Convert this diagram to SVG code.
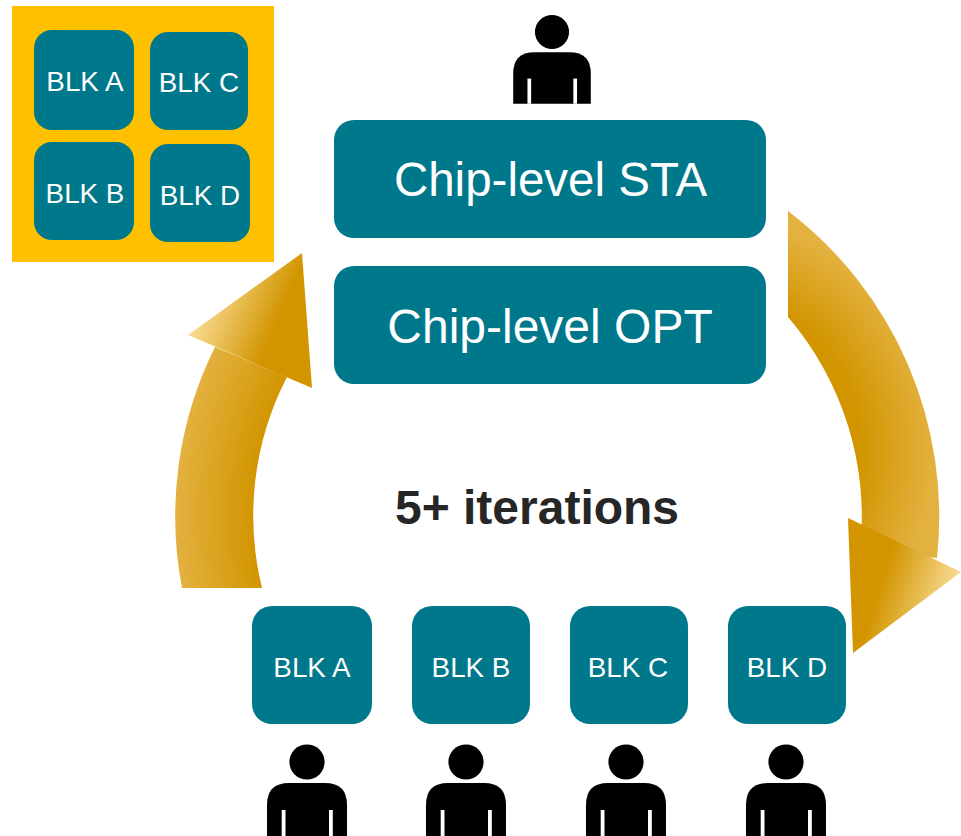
<svg xmlns="http://www.w3.org/2000/svg" xmlns:xlink="http://www.w3.org/1999/xlink" width="961" height="836" viewBox="0 0 961 836">
<style>
.blk{fill:#00788C}
.t{font-family:"Liberation Sans",Arial,sans-serif;fill:#fff;text-anchor:middle}
.s{font-size:27.8px}
.l{font-size:48px}
.i{font-family:"Liberation Sans",Arial,sans-serif;font-size:48px;font-weight:bold;fill:#262626;text-anchor:middle}
.slit{fill:#fff}
</style>
<defs>
<radialGradient id="gl" gradientUnits="userSpaceOnUse" cx="555" cy="516" r="380"><stop offset="0.79" stop-color="#D29500"/><stop offset="1" stop-color="#E3B13F"/></radialGradient>
<linearGradient id="hl" gradientUnits="userSpaceOnUse" x1="188" y1="335" x2="259" y2="365"><stop offset="0" stop-color="#F9DC96"/><stop offset="1" stop-color="#D29500"/></linearGradient>
<radialGradient id="gr" gradientUnits="userSpaceOnUse" cx="700" cy="450" r="235"><stop offset="0.68" stop-color="#D29500"/><stop offset="1" stop-color="#E3B13F"/></radialGradient>
<linearGradient id="hr" gradientUnits="userSpaceOnUse" x1="961" y1="572" x2="892" y2="550"><stop offset="0" stop-color="#F9DC96"/><stop offset="1" stop-color="#D29500"/></linearGradient>
<g id="person">
<circle cx="0" cy="0" r="17.6" fill="#000"/>
<path d="M-40 74V43Q-40 21-18 21H18Q40 21 40 43V74Z" fill="#000"/>
<rect class="slit" x="-25.3" y="48" width="3.8" height="26"/>
<rect class="slit" x="22" y="48" width="3.8" height="26"/>
</g>
</defs>
<g id="connectors">
<g id="arrow-left">
<path d="M182 588A380 380 0 0 1 215 347L287 377A302 302 0 0 0 262 588Z" fill="url(#gl)"/>
<path d="M302 253L188 335L312 388Z" fill="url(#hl)"/>
</g>
<g id="arrow-right">
<path d="M788 211A384 384 0 0 1 937 558L860 550A307 307 0 0 0 788 317Z" fill="url(#gr)"/>
<path d="M848 518L961 572L853 653Z" fill="url(#hr)"/>
</g>
</g>
<g id="chip">
<rect x="12" y="6" width="262" height="256" fill="#FFC000"/>
<g id="chip-a"><rect class="blk" x="34" y="30" width="100" height="100" rx="18"/><text class="t s" x="85" y="91">BLK A</text></g>
<g id="chip-c"><rect class="blk" x="150" y="32" width="98" height="98" rx="18"/><text class="t s" x="199" y="92">BLK C</text></g>
<g id="chip-b"><rect class="blk" x="34" y="142" width="100" height="98" rx="18"/><text class="t s" x="85" y="203">BLK B</text></g>
<g id="chip-d"><rect class="blk" x="150" y="144" width="100" height="98" rx="18"/><text class="t s" x="200" y="205">BLK D</text></g>
</g>
<g id="top-person"><use xlink:href="#person" href="#person" transform="translate(552 32) scale(.97)"/></g>
<g id="sta"><rect class="blk" x="334" y="120" width="432" height="118" rx="20"/><text class="t l" x="550.5" y="196" style="font-size:47.5px">Chip-level STA</text></g>
<g id="opt"><rect class="blk" x="334" y="266" width="432" height="118" rx="20"/><text class="t l" x="550" y="343">Chip-level OPT</text></g>
<g id="iterations"><text class="i" x="537" y="524">5+ iterations</text></g>
<g id="blk-a"><rect class="blk" x="252" y="606" width="120" height="118" rx="20"/><text class="t s" x="312" y="677">BLK A</text></g>
<g id="blk-b"><rect class="blk" x="412" y="606" width="118" height="118" rx="20"/><text class="t s" x="471" y="677">BLK B</text></g>
<g id="blk-c"><rect class="blk" x="570" y="606" width="118" height="118" rx="20"/><text class="t s" x="628" y="677">BLK C</text></g>
<g id="blk-d"><rect class="blk" x="728" y="606" width="118" height="118" rx="20"/><text class="t s" x="787" y="677">BLK D</text></g>
<g id="person-a"><use xlink:href="#person" href="#person" x="307" y="762"/></g>
<g id="person-b"><use xlink:href="#person" href="#person" x="466" y="762"/></g>
<g id="person-c"><use xlink:href="#person" href="#person" x="626" y="762"/></g>
<g id="person-d"><use xlink:href="#person" href="#person" x="786" y="762"/></g>
</svg>
